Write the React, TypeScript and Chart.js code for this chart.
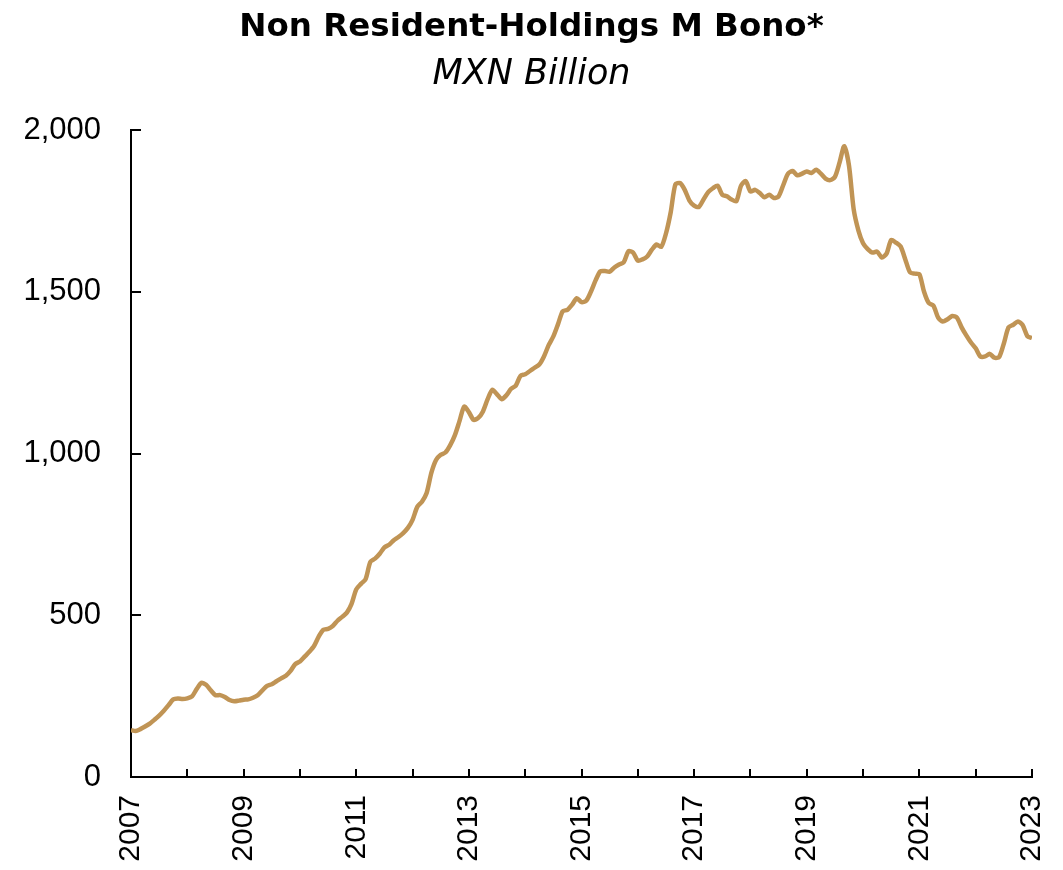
import React, { useEffect, useRef } from 'react';
import { Chart, registerables } from 'chart.js';

Chart.register(...registerables);

const TITLE = 'Non Resident-Holdings M Bono*';
const SUBTITLE = 'MXN Billion';
const START_YEAR = 2007;
const END_YEAR = 2023;
const Y_MIN = 0;
const Y_MAX = 2000;
const Y_STEP = 500;
const X_LABEL_YEARS = [2007, 2009, 2011, 2013, 2015, 2017, 2019, 2021, 2023];

// Monthly holdings, Jan 2007 .. Jan 2023 (MXN billion)
const values2007 = [145, 142, 148, 156, 165, 177, 190, 205, 222, 240, 243, 241];
const values2008 = [243, 249, 272, 291, 285, 268, 253, 253, 247, 238, 234, 236];
const values2009 = [239, 240, 245, 253, 268, 282, 287, 296, 305, 313, 328, 349];
const values2010 = [357, 372, 387, 405, 434, 455, 458, 467, 483, 495, 508, 535];
const values2011 = [580, 597, 612, 665, 675, 690, 710, 718, 732, 742, 754, 770];
const values2012 = [795, 835, 851, 878, 940, 980, 996, 1003, 1025, 1056, 1100, 1145];
const values2013 = [1128, 1104, 1110, 1130, 1168, 1197, 1183, 1168, 1180, 1200, 1210, 1240];
const values2014 = [1245, 1255, 1265, 1275, 1300, 1335, 1362, 1400, 1440, 1444, 1460, 1480];
const values2015 = [1468, 1472, 1500, 1535, 1563, 1564, 1562, 1575, 1584, 1591, 1625, 1621];
const values2016 = [1596, 1600, 1609, 1630, 1646, 1639, 1680, 1745, 1832, 1836, 1815, 1782];
const values2017 = [1766, 1762, 1785, 1808, 1820, 1828, 1800, 1795, 1785, 1780, 1828, 1842];
const values2018 = [1810, 1815, 1805, 1792, 1800, 1790, 1795, 1830, 1865, 1873, 1860, 1865];
const values2019 = [1872, 1867, 1877, 1865, 1850, 1845, 1855, 1900, 1950, 1890, 1755, 1690];
const values2020 = [1650, 1632, 1621, 1624, 1606, 1618, 1660, 1652, 1640, 1600, 1560, 1556];
const values2021 = [1554, 1500, 1465, 1457, 1420, 1408, 1415, 1425, 1420, 1390, 1365, 1343];
const values2022 = [1325, 1300, 1300, 1308, 1296, 1298, 1340, 1390, 1398, 1408, 1397, 1363];
const values2023 = [1357];

const monthlyValues = [
  ...values2007, ...values2008, ...values2009, ...values2010, ...values2011,
  ...values2012, ...values2013, ...values2014, ...values2015, ...values2016,
  ...values2017, ...values2018, ...values2019, ...values2020, ...values2021,
  ...values2022, ...values2023,
];

const LINE_COLOR = '#C09455';

const innerTicksPlugin = {
  id: 'innerTicks',
  afterDraw(chart: any) {
    const ctx = chart.ctx;
    const xs = chart.scales.x;
    const ys = chart.scales.y;
    ctx.save();
    ctx.strokeStyle = '#000';
    ctx.lineWidth = 2;
    ys.ticks.forEach((_t: any, i: number) => {
      const y = Math.round(ys.getPixelForTick(i));
      ctx.beginPath();
      ctx.moveTo(ys.right, y);
      ctx.lineTo(ys.right + 10, y);
      ctx.stroke();
    });
    xs.ticks.forEach((_t: any, i: number) => {
      const x = Math.round(xs.getPixelForTick(i));
      ctx.beginPath();
      ctx.moveTo(x, xs.top);
      ctx.lineTo(x, xs.top - 8);
      ctx.stroke();
    });
    ctx.restore();
  },
};

export default function App() {
  const canvasRef = useRef<HTMLCanvasElement | null>(null);

  useEffect(() => {
    document.body.style.margin = '0';
    const canvas = canvasRef.current;
    if (!canvas) return;
    const points = monthlyValues.map((v, i) => ({ x: START_YEAR + i / 12, y: v }));
    const chart = new Chart(canvas, {
      type: 'line',
      data: {
        datasets: [
          {
            data: points,
            borderColor: LINE_COLOR,
            borderWidth: 4.5,
            pointRadius: 0,
            tension: 0.25,
            fill: false,
          },
        ],
      },
      plugins: [innerTicksPlugin],
      options: {
        animation: false,
        responsive: true,
        maintainAspectRatio: false,
        layout: { padding: 0 },
        plugins: {
          legend: { display: false },
          tooltip: { enabled: false },
          title: {
            display: true,
            text: TITLE,
            color: '#000',
            font: { family: 'DejaVu Sans', size: 32.5, weight: 'bold' },
            padding: { top: 8, bottom: 7 },
          },
          subtitle: {
            display: true,
            text: SUBTITLE,
            color: '#000',
            font: { family: 'DejaVu Sans', size: 35, style: 'italic', weight: 'normal' },
            padding: { top: 0, bottom: 34 },
          },
        },
        scales: {
          x: {
            type: 'linear',
            min: START_YEAR,
            max: END_YEAR,
            afterFit: (scale: any) => {
              scale.height = 93;
              scale.paddingRight = 31;
              scale.paddingLeft = 0;
            },
            grid: { drawOnChartArea: false, drawTicks: false },
            border: { display: true, color: '#000', width: 2 },
            ticks: {
              stepSize: 1,
              autoSkip: false,
              minRotation: 90,
              maxRotation: 90,
              padding: 18,
              color: '#000',
              font: { family: 'Liberation Sans', size: 30 },
              callback: (v: any) => (X_LABEL_YEARS.includes(Number(v)) ? String(v) : ''),
            },
          },
          y: {
            min: Y_MIN,
            max: Y_MAX,
            afterFit: (scale: any) => {
              scale.width = 131;
            },
            grid: { drawOnChartArea: false, drawTicks: false },
            border: { display: true, color: '#000', width: 2 },
            ticks: {
              stepSize: Y_STEP,
              padding: 30,
              color: '#000',
              font: { family: 'Liberation Sans', size: 31 },
              callback: (v: any) => Number(v).toLocaleString('en-US'),
            },
          },
        },
      },
    });
    return () => chart.destroy();
  }, []);

  return (
    <div style={{ width: 1063, height: 870, position: 'relative' }}>
      <canvas ref={canvasRef} />
    </div>
  );
}
